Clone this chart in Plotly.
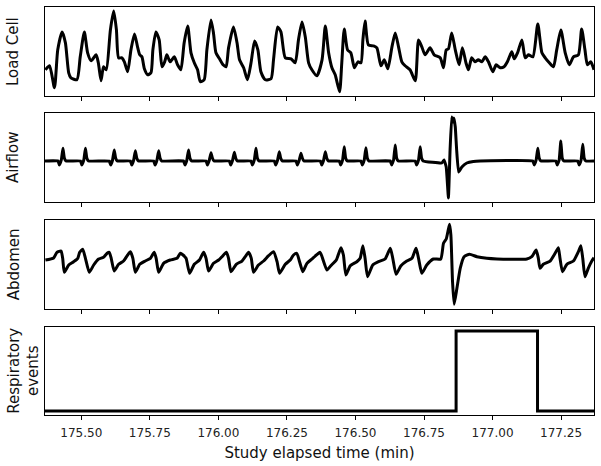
import plotly.graph_objects as go
from plotly.subplots import make_subplots

# ---------------- data (time in minutes, amplitudes in arbitrary units) ----------------
x_ticks = [175.50, 175.75, 176.00, 176.25, 176.50, 176.75, 177.00, 177.25]
x_range = [175.3675, 177.370]

load_t = [175.369, 175.384, 175.402, 175.414, 175.430, 175.442, 175.454, 175.462, 175.484, 175.496,
          175.511, 175.523, 175.536, 175.554, 175.562, 175.572, 175.581, 175.591, 175.606, 175.618,
          175.628, 175.636, 175.648, 175.657, 175.669, 175.681, 175.694, 175.705, 175.713, 175.721,
          175.730, 175.742, 175.754, 175.761, 175.772, 175.784, 175.794, 175.804, 175.812, 175.824,
          175.839, 175.851, 175.863, 175.875, 175.888, 175.900, 175.912, 175.924, 175.934, 175.948,
          175.958, 175.973, 175.982, 175.991, 176.004, 176.017, 176.028, 176.037, 176.055, 176.068,
          176.077, 176.092, 176.106, 176.119, 176.132, 176.144, 176.155, 176.171, 176.192, 176.201,
          176.216, 176.228, 176.244, 176.265, 176.280, 176.292, 176.305, 176.317, 176.329, 176.341,
          176.359,
          176.378, 176.390, 176.402, 176.414, 176.426, 176.442, 176.450, 176.459, 176.471, 176.483,
          176.496, 176.509, 176.520, 176.527, 176.535, 176.547, 176.566, 176.578, 176.593, 176.605,
          176.618, 176.633, 176.645, 176.657, 176.669, 176.681, 176.699, 176.718, 176.730, 176.742,
          176.754, 176.772, 176.787, 176.809, 176.821, 176.831, 176.839, 176.851, 176.864, 176.878,
          176.890, 176.903, 176.912, 176.924, 176.936, 176.948, 176.961, 176.973, 176.985, 177.001,
          177.013, 177.028, 177.042, 177.054, 177.070, 177.079, 177.091, 177.107, 177.119, 177.131,
          177.147, 177.165, 177.180, 177.192, 177.207, 177.222, 177.234, 177.249, 177.265, 177.280,
          177.295, 177.313, 177.325, 177.337, 177.346, 177.358, 177.370]
load_v = [26, 30, 8, 46, 64, 53, 23, 18, 16, 39,
          64, 43, 35, 41, 33, 15, 29, 26, 66, 85,
          66, 38, 38, 34, 24, 46, 62, 49, 41, 39,
          27, 21, 23, 46, 64, 56, 29, 34, 41, 34,
          39, 31, 26, 53, 70, 43, 33, 26, 14, 16,
          46, 76, 63, 43, 37, 31, 29, 48, 69, 53,
          36, 28, 16, 33, 55, 46, 24, 16, 17, 36,
          69, 64, 38, 37, 33, 56, 74, 59, 33, 26,
          20,
          36, 70, 43, 28, 21, 4, 33, 67, 46, 43,
          28, 34, 33, 56, 75, 51, 50, 48, 30, 36,
          27, 49, 63, 49, 34, 30, 26, 15, 56, 49,
          41, 48, 41, 38, 28, 46, 47, 63, 46, 31,
          48, 33, 26, 38, 34, 36, 34, 39, 34, 24,
          31, 28, 29, 34, 44, 37, 43, 56, 38, 41,
          39, 72, 43, 38, 33, 29, 46, 66, 43, 31,
          39, 41, 67, 46, 31, 34, 26]

air_t = [175.3675,
         175.415, 175.420, 175.427, 175.433, 175.438, 175.444,
         175.497, 175.502, 175.509, 175.515, 175.520, 175.526,
         175.602, 175.607, 175.614, 175.620, 175.625, 175.631,
         175.679, 175.684, 175.691, 175.697, 175.702, 175.708,
         175.764, 175.769, 175.776, 175.782, 175.787, 175.793,
         175.873, 175.878, 175.885, 175.891, 175.896, 175.902,
         175.955, 175.960, 175.967, 175.973, 175.978, 175.984,
         176.040, 176.045, 176.052, 176.058, 176.063, 176.069,
         176.119, 176.124, 176.131, 176.137, 176.142, 176.148,
         176.204, 176.209, 176.216, 176.222, 176.227, 176.233,
         176.283, 176.288, 176.295, 176.301, 176.306, 176.312,
         176.372, 176.377, 176.384, 176.390, 176.395, 176.401,
         176.441, 176.446, 176.453, 176.459, 176.464, 176.470,
         176.520, 176.525, 176.532, 176.538, 176.543, 176.549,
         176.627, 176.632, 176.639, 176.645, 176.650, 176.656,
         176.718, 176.723, 176.730, 176.736, 176.741, 176.747,
         176.815, 176.823, 176.831, 176.839, 176.845, 176.851, 176.856, 176.859,
         176.864, 176.869, 176.876, 176.888, 176.906, 176.930, 176.955,
         177.147, 177.152, 177.159, 177.165, 177.170, 177.176,
         177.231, 177.236, 177.243, 177.249, 177.254, 177.260,
         177.311, 177.316, 177.323, 177.329, 177.334, 177.340,
         177.370]
air_v = [0,
         0, -4, 1, 12.7, 3, 0,
         0, -4, 1, 12.7, 3, 0,
         0, -4, 1, 11.0, 3, 0,
         0, -4, 1, 10.3, 3, 0,
         0, -4, 1, 10.3, 3, 0,
         0, -4, 1, 11.0, 3, 0,
         0, -4, 1, 8.3, 3, 0,
         0, -4, 1, 8.7, 3, 0,
         0, -4, 1, 12.7, 3, 0,
         0, -4, 1, 9.3, 3, 0,
         0, -4, 1, 7.7, 3, 0,
         0, -4, 1, 9.3, 3, 0,
         0, -4, 1, 14.3, 3, 0,
         0, -4, 1, 13.3, 3, 0,
         0, -4, 1, 16.0, 3, 0,
         0, -4, 1, 14.3, 3, 0,
         -2, 1, -6, -37, 11, 44, 39, 43,
         34, 11, -11, -6, -2, -0.5, 0,
         0, -4, 1, 12.7, 3, 0,
         0, -4, 1, 20.0, 3, 0,
         0, -4, 1, 16.7, 3, 0,
         0]

abd_t = [175.369, 175.399, 175.411, 175.426, 175.432, 175.438, 175.454, 175.472, 175.487, 175.494,
         175.505, 175.515, 175.529, 175.545, 175.563, 175.581, 175.594, 175.602, 175.609, 175.620,
         175.636, 175.654, 175.669, 175.679, 175.688, 175.697, 175.713, 175.733, 175.752, 175.766,
         175.773, 175.782, 175.800, 175.824, 175.849, 175.861, 175.871, 175.882, 175.895, 175.912,
         175.931, 175.946, 175.955, 175.964, 175.982, 176.001, 176.013, 176.029, 176.037, 176.046,
         176.065, 176.086, 176.098, 176.110, 176.120, 176.128, 176.146, 176.165, 176.183, 176.201,
         176.214, 176.223, 176.244, 176.262, 176.274, 176.286, 176.296, 176.308, 176.323, 176.341,
         176.365, 176.371, 176.378, 176.396, 176.410, 176.430, 176.447, 176.456, 176.465, 176.481,
         176.505, 176.517, 176.527, 176.535, 176.544, 176.563, 176.584, 176.608, 176.627, 176.636,
         176.648, 176.666, 176.687, 176.706, 176.721, 176.730, 176.742, 176.760, 176.784, 176.811,
         176.821, 176.831, 176.837, 176.843, 176.848, 176.854, 176.860, 176.870, 176.882, 176.896,
         176.916, 176.943, 176.979, 177.016, 177.064, 177.125, 177.143, 177.159, 177.167, 177.173,
         177.185, 177.210, 177.228, 177.240, 177.246, 177.255, 177.271, 177.295, 177.313, 177.322,
         177.329, 177.337, 177.349, 177.362, 177.370]
abd_v = [-2, 0, 5.7, 7, -0.3, -14.3, -7, -3.7, -0.3, 5.7,
         8.7, -0.3, -14.3, -7, -1, 0.7, 4.7, 5.7, -0.3, -13,
         -6.3, -3, 3, 6.3, -0.3, -14.3, -6.3, -3, -0.3, 5.7,
         -0.3, -14.3, -5.3, -2, -0.3, 4.7, 3, -0.3, -15.3, -6.3,
         -2, 5.7, -0.3, -13, -5.3, -2, 1.3, 5.7, -0.3, -13.7,
         -6.3, -3, 1.3, 5.7, -0.3, -14.3, -7, -3, 2.3, 6.3,
         -3.7, -15.3, -6.3, -2, 3, 4.7, -3.7, -13.7, -5.3, -1,
         4.7, 5.7, 1.3, -12, -7.7, -2, 10.3, 3, -17, -7.7,
         -3.7, -0.3, 12.3, -0.3, -18.7, -7, -3.7, -1, 9.7, -0.3,
         -16.3, -7.7, -3, -0.3, 9.7, -0.3, -15.3, -7, -1, -1,
         14.7, 19, 26.3, 33.7, 23, -23.7, -46.3, -30.3, -10.3, 1.3,
         3.7, 1.3, -0.3, -1, -1.3, -1, 1.3, 8, -0.3, -10.3,
         -6.3, -3, 4.7, 10.3, -0.3, -13.7, -6.3, -3, 6.3, 12.3,
         -0.3, -18.7, -10.3, -3, 0.3]

event_t = [175.3675, 176.867, 177.164, 177.370]
event_v = [0, 1, 0, 0]

panel_titles = ["Load Cell", "Airflow", "Abdomen", "Respiratory<br>events"]
x_title = "Study elapsed time (min)"

# ---------------- figure ----------------
fig = make_subplots(rows=4, cols=1, shared_xaxes=True)

series = [(load_t, load_v, "spline", 0.6), (air_t, air_v, "spline", 0.3),
          (abd_t, abd_v, "spline", 0.5), (event_t, event_v, "hv", None)]
for i, (tx, vy, shape, smooth) in enumerate(series, start=1):
    n = min(len(tx), len(vy))
    line = dict(color="black", width=3, shape=shape)
    if smooth is not None:
        line["smoothing"] = smooth
    fig.add_trace(go.Scatter(x=tx[:n], y=vy[:n], mode="lines", line=line,
                             showlegend=False, hoverinfo="skip"), row=i, col=1)

domains = [[0.7826, 1.0], [0.5228, 0.7402], [0.2598, 0.4779], [0.0, 0.2157]]
y_ranges = [[0, 89], [-40.7, 48], [-51, 38], [-0.05, 1.05]]
font_family = "DejaVu Sans"

for i in range(4):
    xa = "xaxis" if i == 0 else f"xaxis{i+1}"
    ya = "yaxis" if i == 0 else f"yaxis{i+1}"
    fig.layout[ya].update(domain=domains[i], range=y_ranges[i], showticklabels=False,
                          ticks="", showgrid=False, zeroline=False, showline=True,
                          mirror=True, linecolor="black", linewidth=1)
    fig.layout[xa].update(range=x_range, tickvals=x_ticks, tickformat=".2f",
                          ticks="outside", ticklen=4, tickwidth=1, tickcolor="black",
                          showgrid=False, zeroline=False, showline=True, mirror=True,
                          linecolor="black", linewidth=1,
                          showticklabels=(i == 3), ticklabelstandoff=3,
                          tickfont=dict(family=font_family, size=12, color="#222"))
    fig.add_annotation(text=panel_titles[i], xref="paper", yref="paper",
                       x=-0.077, y=(domains[i][0] + domains[i][1]) / 2,
                       xanchor="left", yanchor="middle", textangle=-90,
                       showarrow=False, align="center",
                       font=dict(family=font_family, size=15, color="#111"))

fig.layout.xaxis4.update(title=dict(text=x_title, standoff=8,
                                    font=dict(family=font_family, size=15, color="#111")))

fig.update_layout(width=601, height=466, margin=dict(l=45, r=7, t=7, b=51),
                  paper_bgcolor="white", plot_bgcolor="white",
                  font=dict(family=font_family))

fig.write_html("out.html", config={"displayModeBar": False},
               post_script="document.body.style.margin='0px';")
